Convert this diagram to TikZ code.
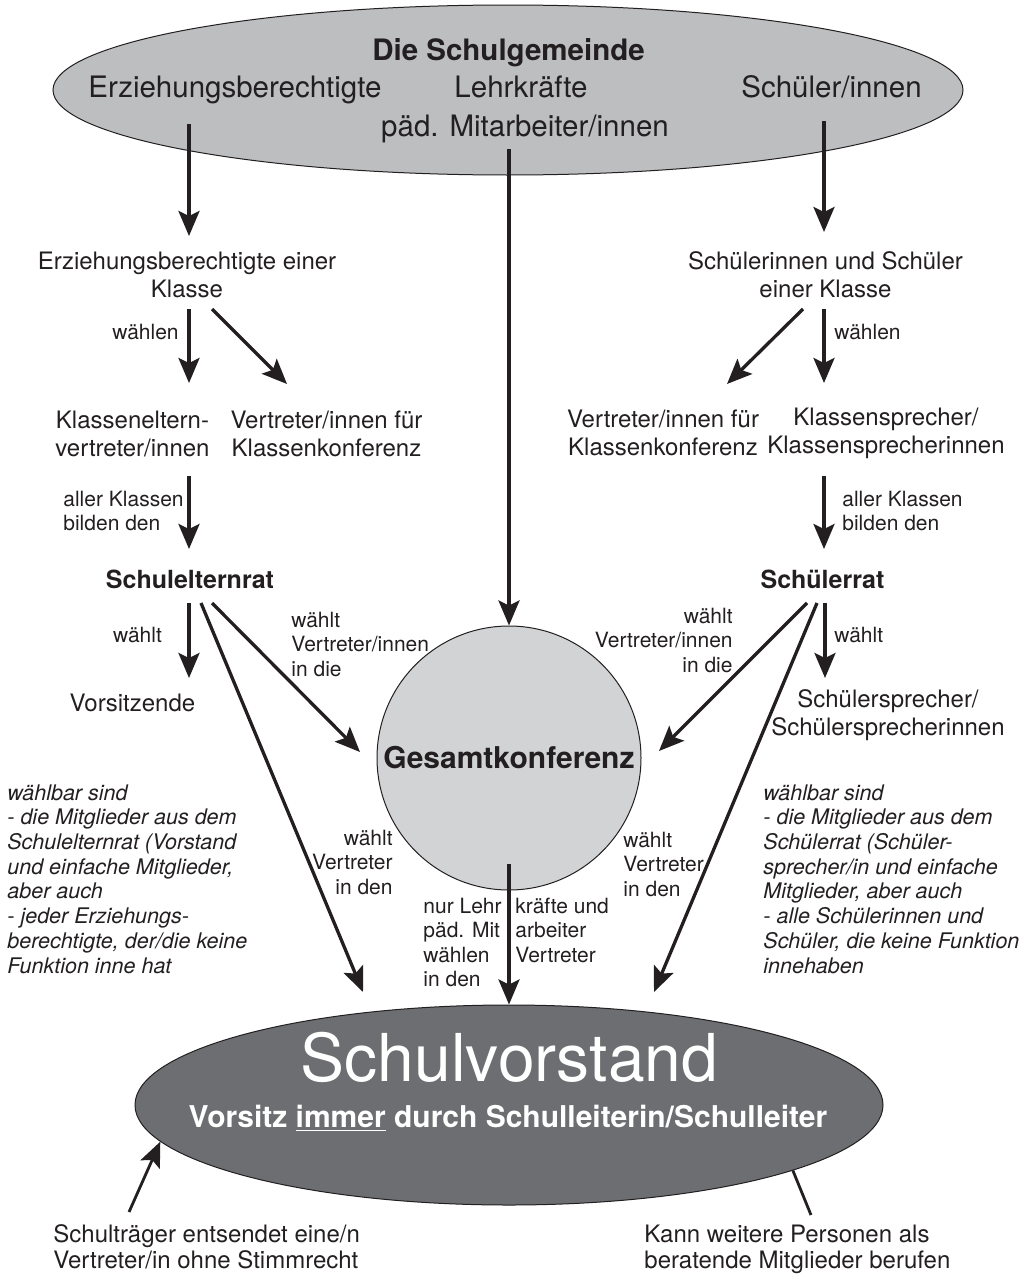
\documentclass[tikz,border=0pt]{standalone}
\usepackage{fontspec}
\setmainfont{TeX Gyre Heros}
\usetikzlibrary{shapes.geometric,arrows.meta,positioning}

\definecolor{gemgrau}{HTML}{BCBEC0}
\definecolor{kreisgrau}{HTML}{D1D3D4}
\definecolor{vorstandgrau}{HTML}{6D6E71}
\definecolor{schwarz}{HTML}{231F20}

\begin{document}
\begin{tikzpicture}[
x=0.5pt,y=-0.5pt,
txt/.style={
  inner sep=0pt,
  text=schwarz,
  align=center,
  font=\fontsize{12}{14}\selectfont
},
klein/.style={
  txt,
  font=\fontsize{10.5}{12.25}\selectfont
},
kursiv/.style={
  txt,
  align=left,
  font=\fontsize{10.75}{12.35}\selectfont\itshape
},
gremium/.style={
  txt,
  font=\fontsize{12.5}{15}\selectfont\bfseries
},
gemtxt/.style={
  txt,
  font=\fontsize{14.75}{17}\selectfont
},
pfeil/.style={
  draw=schwarz,
  line width=1.65pt,
  -{Stealth[length=12.5pt,width=10.5pt,inset=2.5pt]}
}
]
\useasboundingbox (0,0) rectangle (1029,1274);

% Schulgemeinde
\node[ellipse,draw=schwarz,line width=0.5pt,fill=gemgrau,inner sep=0pt,
  minimum width=455pt,minimum height=85pt] (gem) at (508,90) {};
\node[gemtxt,font=\fontsize{14.75}{17}\selectfont\bfseries,anchor=base] (titel) at (508.5,60)
  {Die Schulgemeinde};
\node[gemtxt,anchor=base] (erz) at (235,97)
  {Erziehungsberechtigte};
\node[gemtxt,anchor=base] (lehr) at (521,97)
  {Lehrkräfte};
\node[gemtxt,anchor=base] (paed) at (525,136)
  {päd. Mitarbeiter/innen};
\node[gemtxt,anchor=base] (sch) at (831.5,97)
  {Schüler/innen};

% Eltern (base = letzte Zeile)
\node[txt,anchor=base] (ekl) at (187,297)
  {Erziehungsberechtigte einer\\Klasse};
\node[klein,anchor=base] (ewaehlen) at (145.5,339)
  {wählen};
\node[txt,anchor=base] (kev) at (132.5,456)
  {Klasseneltern-\\vertreter/innen};
\node[txt,anchor=base] (ekk) at (326.5,456)
  {Vertreter/innen für\\Klassenkonferenz};
\node[klein,align=left,anchor=base west] (ealler) at (63,530.5)
  {aller Klassen\\bilden den};
\node[gremium,anchor=base] (ser) at (190,588)
  {Schulelternrat};
\node[klein,anchor=base] (ewaehlt) at (137.5,642)
  {wählt};
\node[txt,anchor=base] (vors) at (132.5,711)
  {Vorsitzende};
\node[klein,align=left,anchor=base west] (egk) at (291,676)
  {wählt\\Vertreter/innen\\in die};
\node[klein,align=right,anchor=base east] (esv) at (393,894)
  {wählt\\Vertreter\\in den};
\node[kursiv,anchor=base west] (ewahl) at (7,973)
  {wählbar sind\\- die Mitglieder aus dem\\Schulelternrat (Vorstand\\und einfache Mitglieder,\\aber auch\\- jeder Erziehungs-\\berechtigte, der/die keine\\Funktion inne hat};

% Gesamtkonferenz
\node[circle,draw=schwarz,line width=0.5pt,fill=kreisgrau,inner sep=0pt,
  minimum size=132pt,text=schwarz,font=\fontsize{15}{18}\selectfont\bfseries] (gk) at (509,758)
  {Gesamtkonferenz};
\node[klein,align=left,anchor=base west] (nurl) at (423,986.5)
  {nur Lehr\\päd. Mit\\wählen\\in den};
\node[klein,align=left,anchor=base west] (nurr) at (515,962)
  {kräfte und\\arbeiter\\Vertreter};

% Schueler
\node[txt,anchor=base] (skl) at (825.5,297)
  {Schülerinnen und Schüler\\einer Klasse};
\node[klein,anchor=base west] (swaehlen) at (834,339)
  {wählen};
\node[txt,anchor=base] (skk) at (663,455)
  {Vertreter/innen für\\Klassenkonferenz};
\node[txt,anchor=base] (ksp) at (886,453)
  {Klassensprecher/\\Klassensprecherinnen};
\node[klein,align=left,anchor=base west] (saller) at (842,530.5)
  {aller Klassen\\bilden den};
\node[gremium,anchor=base] (sr) at (822.5,588)
  {Schülerrat};
\node[klein,anchor=base west] (swaehlt) at (834,642)
  {wählt};
\node[txt,anchor=base] (ssp) at (888,735)
  {Schülersprecher/\\Schülersprecherinnen};
\node[klein,align=right,anchor=base east] (sgk) at (733,672)
  {wählt\\Vertreter/innen\\in die};
\node[klein,align=left,anchor=base west] (ssv) at (623,896)
  {wählt\\Vertreter\\in den};
\node[kursiv,anchor=base west] (swahl) at (763,973)
  {wählbar sind\\- die Mitglieder aus dem\\Schülerrat (Schüler-\\sprecher/in und einfache\\Mitglieder, aber auch\\- alle Schülerinnen und\\Schüler, die keine Funktion\\innehaben};

% Schulvorstand
\node[ellipse,draw=schwarz,line width=0.5pt,fill=vorstandgrau,inner sep=0pt,
  minimum width=374pt,minimum height=100pt] (sv) at (509,1105) {};
\node[txt,text=white,font=\fontsize{33}{36}\selectfont,anchor=base] (svtitel) at (509.5,1081)
  {Schulvorstand};
\node[txt,text=white,font=\fontsize{15}{18}\selectfont\bfseries,anchor=base] (svvors) at (508,1127)
  {Vorsitz \underline{immer} durch Schulleiterin/Schulleiter};
\node[txt,align=left,font=\fontsize{12}{13.25}\selectfont,anchor=base west] (traeger) at (53,1268.5)
  {Schulträger entsendet eine/n\\Vertreter/in ohne Stimmrecht};
\node[txt,align=left,font=\fontsize{12}{13.25}\selectfont,anchor=base west] (berat) at (644,1268.5)
  {Kann weitere Personen als\\beratende Mitglieder berufen};

% Pfeilenden
\coordinate (erz-a) at (189,124);
\coordinate (ekl-e) at (189,236);
\coordinate (paed-a) at (509,149);
\coordinate (sch-a) at (824,121);
\coordinate (skl-e) at (824,232);
\coordinate (ekl-a) at (189,309);
\coordinate (ekl-b) at (212,309);
\coordinate (kev-e) at (189,383);
\coordinate (ekk-e) at (287,384);
\coordinate (skl-a) at (824,309);
\coordinate (skl-b) at (803,309);
\coordinate (ksp-e) at (824,383);
\coordinate (skk-e) at (727,384);
\coordinate (kev-a) at (189,476);
\coordinate (ser-e) at (189,549);
\coordinate (ksp-a) at (824,476);
\coordinate (sr-e) at (824,549);
\coordinate (ser-a) at (189,603);
\coordinate (ser-b) at (212,603);
\coordinate (ser-c) at (201,603);
\coordinate (vors-e) at (189,678);
\coordinate (gk-l) at (360,752);
\coordinate (sv-l) at (363,992);
\coordinate (sr-a) at (825,603);
\coordinate (sr-b) at (807,603);
\coordinate (sr-c) at (817,603);
\coordinate (ssp-e) at (825,678);
\coordinate (gk-r) at (659,751);
\coordinate (sv-r) at (654,992);
\coordinate (gk-a) at (509,864);
\coordinate (traeger-a) at (129,1212);
\coordinate (berat-a) at (811,1215);

\draw[pfeil] (erz-a) -- (ekl-e);
\draw[pfeil] (paed-a) -- (gk.north);
\draw[pfeil] (sch-a) -- (skl-e);
\draw[pfeil] (ekl-a) -- (kev-e);
\draw[pfeil] (ekl-b) -- (ekk-e);
\draw[pfeil] (skl-a) -- (ksp-e);
\draw[pfeil] (skl-b) -- (skk-e);
\draw[pfeil] (kev-a) -- (ser-e);
\draw[pfeil] (ksp-a) -- (sr-e);
\draw[pfeil] (ser-a) -- (vors-e);
\draw[pfeil] (ser-b) -- (gk-l);
\draw[pfeil] (ser-c) -- (sv-l);
\draw[pfeil] (sr-a) -- (ssp-e);
\draw[pfeil] (sr-b) -- (gk-r);
\draw[pfeil] (sr-c) -- (sv-r);
\draw[pfeil] (gk-a) -- (sv.north);
\draw[pfeil,line width=1.4pt] (traeger-a) -- (sv.186);
\draw[draw=schwarz,line width=1.4pt] (sv.347) -- (berat-a);
\end{tikzpicture}
\end{document}
